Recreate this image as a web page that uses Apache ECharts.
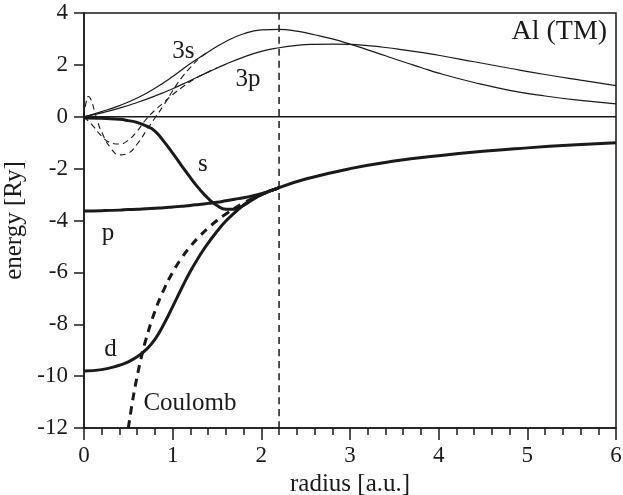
<!DOCTYPE html>
<html><head><meta charset="utf-8">
<script src="https://cdn.jsdelivr.net/npm/echarts@6/dist/echarts.min.js"></script>
<style>html,body{margin:0;padding:0;background:#fff}#c{width:623px;height:495px}</style>
</head><body><div id="c"></div>
<script>
// ---- data ----
var xTicks = [0,1,2,3,4,5,6];
var yTicks = [-12,-10,-8,-6,-4,-2,0,2,4];

var wfX   = [0,0.2,0.4,0.6,0.8,1.0,1.2,1.4,1.6,1.8,2.0,2.2,2.4,2.6,2.8,3.0,3.2,3.4,3.6,3.8,4.0,4.4,4.8,5.2,5.6,6.0];
var wf3s  = [0,0.2,0.43,0.72,1.1,1.55,2.05,2.5,2.9,3.2,3.35,3.37,3.3,3.16,3.0,2.8,2.58,2.35,2.12,1.9,1.68,1.32,1.02,0.8,0.63,0.5];
var wf3p  = [0,0.15,0.33,0.55,0.8,1.08,1.4,1.72,2.03,2.3,2.52,2.66,2.75,2.79,2.8,2.79,2.74,2.67,2.58,2.48,2.37,2.12,1.87,1.63,1.41,1.2];

var ps3sX = [0,0.02,0.05,0.08,0.12,0.16,0.2,0.3,0.4,0.5,0.6,0.7,0.8,0.9,1.0,1.1,1.2,1.3,1.4];
var ps3s  = [0,0.5,0.78,0.65,0.2,-0.25,-0.6,-1.2,-1.47,-1.4,-1.05,-0.55,-0.05,0.45,1.0,1.5,1.9,2.25,2.5];
var ps3pX = [0,0.1,0.2,0.3,0.4,0.5,0.6,0.7,0.8,0.9,1.0,1.1,1.2,1.3,1.4,1.5];
var ps3p  = [0,-0.35,-0.75,-1.0,-1.05,-0.9,-0.55,-0.1,0.25,0.55,0.85,1.12,1.36,1.56,1.73,1.88];

var potX  = [0,0.2,0.4,0.5,0.6,0.7,0.8,0.9,1.0,1.1,1.2,1.3,1.4,1.5,1.6,1.7,1.8,1.9,2.0,2.1,2.2];
var potS  = [-0.05,-0.06,-0.1,-0.15,-0.22,-0.35,-0.55,-0.95,-1.4,-1.88,-2.35,-2.78,-3.15,-3.42,-3.57,-3.57,-3.42,-3.2,-3.0,-2.86,-2.73];
var potP  = [-3.63,-3.62,-3.6,-3.58,-3.57,-3.55,-3.53,-3.51,-3.48,-3.45,-3.42,-3.38,-3.34,-3.3,-3.24,-3.18,-3.12,-3.05,-2.97,-2.86,-2.73];
var potD  = [-9.8,-9.75,-9.58,-9.45,-9.25,-8.98,-8.58,-8.0,-7.32,-6.62,-5.96,-5.38,-4.87,-4.42,-4.02,-3.7,-3.4,-3.17,-3.0,-2.86,-2.73];
var tailX = [2.2,2.5,3.0,3.5,4.0,4.5,5.0,5.5,6.0];
var tailY = [-2.73,-2.4,-2.0,-1.71,-1.5,-1.33,-1.2,-1.09,-1.0];
var coulX = [0.5,0.55,0.6,0.65,0.7,0.8,0.9,1.0,1.1,1.2,1.3,1.4,1.5,1.6,1.8,2.0,2.2];
var coulY = [-12,-10.91,-10,-9.23,-8.57,-7.5,-6.67,-6.0,-5.45,-5.0,-4.62,-4.29,-4.0,-3.75,-3.33,-3.0,-2.73];

var rc = [2.2];
var labelNames = ['3s','3p','s','p','d','Coulomb','Al (TM)'];
var labelX = [1.12,1.85,1.34,0.27,0.3,0.67,5.9];
var labelY = [2.5,1.42,-1.85,-4.5,-8.96,-11.04,3.27];

// ---- chart ----
function zip(xs, ys){ return xs.map(function(x,i){ return [x, ys[i]]; }); }
var FONT = 'Liberation Serif';
var INK = '#1a1a1a';
function line(data, w, type){
  return { type:'line', data:data, showSymbol:false, smooth:true, silent:true,
    lineStyle:{ color:INK, width:w, type:type||'solid' }, z:3 };
}
var labelData = labelNames.map(function(n,i){
  return { value:[labelX[i], labelY[i]], name:n,
    label:{ show:true, position:'inside', formatter:'{b}', fontFamily:FONT, color:INK,
            textBorderWidth:0, verticalAlign:'middle', opacity:1,
            align: (n==='Coulomb') ? 'left' : (n==='Al (TM)' ? 'right' : 'center'),
            fontSize: (n==='Al (TM)') ? 28 : 25 } };
});

var chart = echarts.init(document.getElementById('c'), null, {renderer:'canvas'});
chart.setOption({
  animation:false,
  backgroundColor:'#fff',
  grid:{ left:84, right:7, top:13, bottom:67, show:true, borderColor:INK, borderWidth:1.5,
         outerBoundsMode:'none', containLabel:false },
  xAxis:{ type:'value', min:xTicks[0], max:xTicks[xTicks.length-1], interval:1,
    name:'radius [a.u.]', nameLocation:'middle', nameGap:42,
    nameTextStyle:{ fontFamily:FONT, fontSize:25, color:INK },
    axisLine:{ onZero:false, lineStyle:{ color:INK, width:1.5 } },
    axisTick:{ show:true, inside:false, length:12, lineStyle:{ color:INK, width:1.5 } },
    minorTick:{ show:true, splitNumber:5, length:7, lineStyle:{ color:INK, width:1.5 } },
    axisLabel:{ fontFamily:FONT, fontSize:23, color:INK, margin:16 },
    splitLine:{ show:false } },
  yAxis:{ type:'value', min:yTicks[0], max:yTicks[yTicks.length-1], interval:2,
    name:'energy [Ry]', nameLocation:'middle', nameGap:48,
    nameTextStyle:{ fontFamily:FONT, fontSize:25, color:INK },
    axisLine:{ onZero:false, lineStyle:{ color:INK, width:1.5 } },
    axisTick:{ show:true, inside:false, length:10, lineStyle:{ color:INK, width:1.5 } },
    axisLabel:{ fontFamily:FONT, fontSize:23, color:INK, margin:16 },
    splitLine:{ show:false } },
  series:[
    line([[xTicks[0],0],[xTicks[xTicks.length-1],0]], 1.5),
    line([[rc[0], yTicks[0]],[rc[0], yTicks[yTicks.length-1]]], 1.5, [7,5]),
    line(zip(wfX, wf3s), 1.2),
    line(zip(wfX, wf3p), 1.2),
    line(zip(ps3sX, ps3s), 1.1, [6,4]),
    line(zip(ps3pX, ps3p), 1.1, [6,4]),
    line(zip(potX, potS), 3),
    line(zip(potX, potP), 3),
    line(zip(potX, potD), 3),
    line(zip(tailX, tailY), 3),
    line(zip(coulX, coulY), 3, [8,6]),
    { type:'scatter', data:labelData, symbolSize:0, silent:true, z:5,
      itemStyle:{ color:INK, opacity:1 } }
  ]
});
</script></body></html>
